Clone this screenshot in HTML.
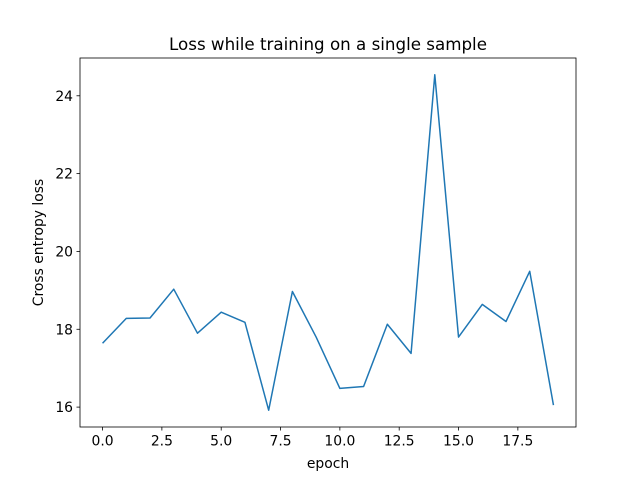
<!DOCTYPE html>
<html><head><meta charset="utf-8"><style>
body{margin:0;background:#fff;}
svg text{font-family:"DejaVu Sans","Liberation Sans",sans-serif;fill:#000;}
</style></head><body>
<svg id="chart" width="640" height="480" xmlns="http://www.w3.org/2000/svg">
<rect width="640" height="480" fill="#fff"/>
<text x="328" y="50" font-size="16.7" text-anchor="middle">Loss while training on a single sample</text>
<g id="xticks"></g>
<g id="yticks"></g>
<path id="line" fill="none" stroke="#1f77b4" stroke-width="1.5" stroke-linejoin="round"/>
<rect x="80" y="58" width="496" height="369" fill="none" stroke="#000" stroke-width="0.8"/>
<text x="328" y="468" font-size="13.9" text-anchor="middle">epoch</text>
<text transform="translate(43,242.5) rotate(-90)" font-size="13.9" text-anchor="middle">Cross entropy loss</text>
</svg>
<script>
const epochs=[0,1,2,3,4,5,6,7,8,9,10,11,12,13,14,15,16,17,18,19];
const losses=[17.64,18.28,18.29,19.03,17.9,18.44,18.18,15.92,18.97,17.8,16.48,16.53,18.13,17.38,24.54,17.8,18.64,18.2,19.49,16.05];
const xTicks=[0,2.5,5,7.5,10,12.5,15,17.5];
const xTickLabels=["0.0","2.5","5.0","7.5","10.0","12.5","15.0","17.5"];
const yTicks=[16,18,20,22,24];
const yTickLabels=["16","18","20","22","24"];
const NS="http://www.w3.org/2000/svg";
const x0=80,x1=576,y0=58,y1=427;
const xmin=Math.min(...epochs),xmax=Math.max(...epochs),xm=(xmax-xmin)*0.05;
const ymin=Math.min(...losses),ymax=Math.max(...losses),ym=(ymax-ymin)*0.05;
const X=v=>x0+(v-(xmin-xm))/((xmax+xm)-(xmin-xm))*(x1-x0);
const Y=v=>y1-(v-(ymin-ym))/((ymax+ym)-(ymin-ym))*(y1-y0);
const xg=document.getElementById('xticks'),yg=document.getElementById('yticks');
xTicks.forEach((t,i)=>{
 const l=document.createElementNS(NS,'line');
 l.setAttribute('x1',X(t));l.setAttribute('x2',X(t));l.setAttribute('y1',y1);l.setAttribute('y2',y1+3.5);
 l.setAttribute('stroke','#000');l.setAttribute('stroke-width','0.8');
 
 
 xg.appendChild(l);
 const tx=document.createElementNS(NS,'text');
 tx.setAttribute('x',X(t));tx.setAttribute('y',y1+18.5);tx.setAttribute('font-size','13.9');tx.setAttribute('text-anchor','middle');
 tx.textContent=xTickLabels[i];
 
 
 xg.appendChild(tx);
});
yTicks.forEach((t,i)=>{
 const l=document.createElementNS(NS,'line');
 l.setAttribute('x1',x0-3.5);l.setAttribute('x2',x0);l.setAttribute('y1',Y(t));l.setAttribute('y2',Y(t));
 l.setAttribute('stroke','#000');l.setAttribute('stroke-width','0.8');
 
 
 yg.appendChild(l);
 const tx=document.createElementNS(NS,'text');
 tx.setAttribute('x',x0-7);tx.setAttribute('y',Y(t)+5);tx.setAttribute('font-size','13.9');tx.setAttribute('text-anchor','end');
 tx.textContent=yTickLabels[i];
 
 
 yg.appendChild(tx);
});
document.getElementById('line').setAttribute('d',epochs.map((e,i)=>(i?'L':'M')+X(e).toFixed(2)+','+Y(losses[i]).toFixed(2)).join(' '));
</script>
</body></html>
